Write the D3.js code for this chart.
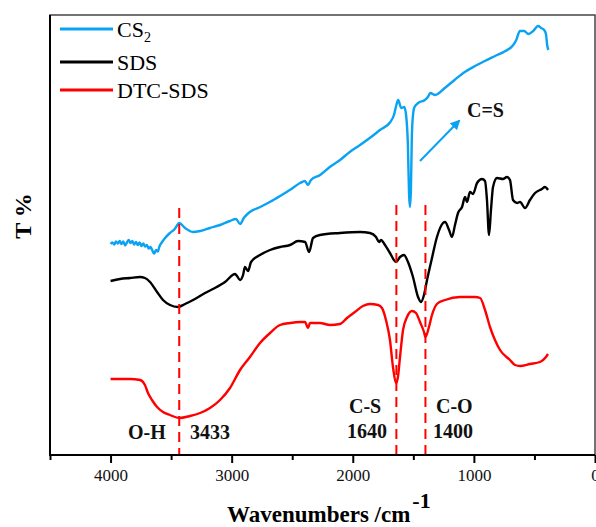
<!DOCTYPE html>
<html>
<head>
<meta charset="utf-8">
<script src="https://cdn.jsdelivr.net/npm/d3@7/dist/d3.min.js"></script>
<style>
  body { margin: 0; background: #fff; }
  svg { display: block; font-family: "Liberation Serif", "Times New Roman", serif; }
</style>
</head>
<body>
<div id="chart-area"></div>
<script>
// wavenumber (cm-1) and relative transmittance readings
var cs2Wave = [4000, 3985, 3970, 3955, 3940, 3925, 3910, 3895, 3880, 3865, 3850, 3835, 3820, 3805, 3790, 3775, 3760, 3745, 3730, 3715, 3700, 3685, 3670, 3655, 3640, 3625, 3610, 3595, 3580, 3550, 3510, 3470, 3433, 3385, 3320, 3260, 3180, 3095, 3015, 2965, 2930, 2900, 2850, 2765, 2685, 2600, 2520, 2435, 2395, 2370, 2345, 2270, 2190, 2105, 2025, 1940, 1860, 1775, 1690, 1660, 1640, 1625, 1600, 1575, 1560, 1545, 1535, 1528, 1520, 1512, 1500, 1490, 1460, 1405, 1380, 1360, 1320, 1240, 1160, 1075, 990, 910, 825, 740, 675, 650, 620, 585, 550, 510, 470, 445, 420, 405, 395, 385];
var cs2Val = [42.2, 42.5, 42.1, 42.7, 42.3, 42.8, 42.2, 42.7, 41.9, 42.5, 43.0, 42.4, 42.8, 42.1, 42.6, 42.0, 42.5, 41.8, 42.3, 41.7, 42.0, 41.3, 41.6, 40.9, 40.3, 41.0, 40.7, 41.8, 42.4, 43.4, 44.4, 45.2, 46.4, 45.4, 44.6, 44.8, 45.4, 46.0, 46.8, 47.2, 46.2, 47.4, 48.6, 49.6, 50.6, 51.8, 53.0, 54.4, 54.8, 54.0, 55.0, 56.0, 57.6, 59.0, 60.6, 62.0, 63.4, 65.0, 66.6, 68.0, 70.0, 71.0, 69.4, 69.6, 68.0, 62.0, 52.0, 49.6, 53.0, 64.0, 68.6, 69.6, 70.4, 71.0, 71.6, 72.4, 72.0, 73.4, 75.0, 76.6, 77.8, 78.8, 79.8, 80.8, 82.0, 83.0, 84.8, 84.8, 84.2, 84.8, 85.8, 85.4, 85.0, 84.2, 82.0, 81.0];

var sdsWave = [4000, 3922, 3840, 3757, 3716, 3674, 3616, 3567, 3509, 3443, 3385, 3303, 3220, 3138, 3055, 2972, 2956, 2931, 2906, 2890, 2865, 2840, 2766, 2683, 2601, 2518, 2452, 2394, 2361, 2328, 2271, 2106, 1940, 1858, 1808, 1783, 1767, 1734, 1693, 1643, 1610, 1577, 1544, 1503, 1461, 1437, 1412, 1387, 1346, 1305, 1255, 1238, 1205, 1181, 1156, 1131, 1098, 1073, 1057, 1032, 1007, 974, 933, 908, 892, 875, 859, 842, 809, 760, 727, 702, 677, 644, 619, 578, 537, 495, 438, 413, 388];
var sdsVal = [34.8, 35.2, 35.4, 35.6, 35.4, 34.6, 32.6, 31.0, 30.0, 29.6, 30.2, 31.2, 32.4, 33.4, 34.6, 36.2, 35.8, 35.0, 36.0, 37.6, 36.8, 38.6, 40.0, 41.0, 41.6, 42.0, 42.8, 42.6, 40.6, 43.4, 44.0, 44.4, 44.6, 44.4, 43.6, 42.6, 43.0, 42.0, 40.4, 38.6, 39.6, 40.0, 38.6, 35.6, 31.6, 30.6, 32.0, 35.0, 39.4, 43.6, 46.4, 46.6, 45.0, 43.6, 46.0, 48.4, 49.6, 51.6, 50.6, 52.6, 52.2, 54.4, 55.2, 54.8, 51.0, 44.0, 49.0, 53.6, 55.4, 55.2, 55.6, 55.0, 51.0, 50.4, 50.6, 49.4, 51.0, 52.4, 53.2, 53.6, 53.0];

var dtcWave = [4000, 3840, 3757, 3716, 3691, 3658, 3616, 3567, 3509, 3433, 3344, 3261, 3179, 3096, 3014, 2931, 2849, 2766, 2683, 2601, 2518, 2436, 2394, 2370, 2353, 2271, 2188, 2106, 2048, 1982, 1916, 1858, 1792, 1759, 1726, 1693, 1668, 1643, 1627, 1610, 1585, 1552, 1511, 1478, 1445, 1412, 1400, 1371, 1346, 1305, 1238, 1114, 990, 949, 908, 867, 826, 784, 702, 660, 619, 537, 454, 405, 388];
var dtcVal = [15.2, 15.2, 15.0, 14.0, 12.4, 11.0, 9.6, 8.6, 8.0, 7.4, 7.8, 8.4, 9.4, 11.0, 13.4, 17.0, 19.6, 22.4, 24.4, 26.0, 26.4, 26.6, 26.6, 25.4, 26.4, 26.4, 26.0, 26.2, 27.4, 28.6, 29.8, 30.2, 30.0, 29.4, 27.0, 23.0, 17.6, 14.4, 15.6, 19.6, 25.0, 27.6, 28.8, 28.4, 26.6, 24.6, 23.6, 25.6, 28.0, 30.2, 31.0, 31.6, 31.6, 31.4, 29.0, 25.6, 23.0, 21.0, 19.0, 18.0, 17.8, 18.2, 18.6, 19.6, 20.2];

var seriesNames = ["CS2", "SDS", "DTC-SDS"];
var seriesColors = ["#0aa2f2", "#000000", "#ff0000"];
var xTicksMajor = [4000, 3000, 2000, 1000, 0];
var xTicksMinor = [4500, 3500, 2500, 1500, 500];
var peakMarks = [3433, 1640, 1400];

var W = 596, H = 527;
var plotL = 50, plotR = 595, plotT = 15, plotB = 455;

var svg = d3.select("#chart-area").append("svg").attr("width", W).attr("height", H);

var x = d3.scaleLinear().domain([4500, 0]).range([plotL, plotR]);
var y = d3.scaleLinear().domain([0, 88]).range([plotB, plotT]);

// frame
svg.append("rect").attr("x", plotL).attr("y", plotT).attr("width", plotR - plotL).attr("height", plotB - plotT)
    .attr("fill", "none").attr("stroke", "#444").attr("stroke-width", 1.5);

var line = d3.line().x(d => x(d[0])).y(d => y(d[1])).curve(d3.curveMonotoneX);

var allSeries = [
  d3.zip(cs2Wave, cs2Val),
  d3.zip(sdsWave, sdsVal),
  d3.zip(dtcWave, dtcVal)
];

allSeries.forEach((s, i) => {
  svg.append("path").datum(s).attr("d", line)
      .attr("fill", "none").attr("stroke", seriesColors[i])
      .attr("stroke-width", 2.4).attr("stroke-linejoin", "round");
});

// dashed peak guides
var guideTop = [49.4, 50, 50];
svg.selectAll("line.guide").data(peakMarks).enter().append("line")
    .attr("class", "guide")
    .attr("x1", d => x(d)).attr("x2", d => x(d))
    .attr("y1", (d, i) => y(guideTop[i])).attr("y2", plotB)
    .attr("stroke", "#ff0000").attr("stroke-width", 2).attr("stroke-dasharray", "10,6");

// axes
svg.append("g").attr("transform", `translate(0,${plotB})`)
    .call(d3.axisBottom(x).tickValues(xTicksMajor).tickSize(8).tickPadding(6).tickFormat(d3.format("d")))
    .call(g => g.select(".domain").remove())
    .call(g => g.selectAll("line").attr("stroke-width", 2))
    .call(g => g.selectAll("text").attr("font-size", 17).attr("font-family", "Liberation Serif").attr("fill", "#111"));

svg.append("g").attr("transform", `translate(0,${plotB})`)
    .call(d3.axisBottom(x).tickValues(xTicksMinor).tickSize(5).tickFormat(""))
    .call(g => g.select(".domain").remove())
    .call(g => g.selectAll("line").attr("stroke-width", 2));

svg.append("line").attr("x1", plotL - 1).attr("x2", plotR).attr("y1", plotB).attr("y2", plotB)
    .attr("stroke", "#000").attr("stroke-width", 2);
svg.append("line").attr("x1", plotL).attr("x2", plotL).attr("y1", plotT).attr("y2", plotB)
    .attr("stroke", "#000").attr("stroke-width", 2);

// axis titles
var xt = svg.append("text").attr("x", 227).attr("y", 522)
    .attr("font-size", 23).attr("font-weight", "bold");
xt.append("tspan").text("Wavenumbers /cm");
xt.append("tspan").attr("dx", 2).attr("dy", -14).attr("font-size", 22).text("-1");

svg.append("text").attr("transform", "translate(31,216) rotate(-90)").attr("text-anchor", "middle")
    .attr("font-size", 24).attr("font-weight", "bold").text("T %");

// legend
var legY = [29, 62, 90];
seriesNames.forEach((name, i) => {
  svg.append("line").attr("x1", 60).attr("x2", 113).attr("y1", legY[i]).attr("y2", legY[i])
      .attr("stroke", seriesColors[i]).attr("stroke-width", 3);
  var t = svg.append("text").attr("x", 117).attr("y", legY[i] + 8).attr("font-size", 22);
  if (name === "CS2") {
    t.append("tspan").text("CS");
    t.append("tspan").attr("font-size", 14).attr("dy", 5).text("2");
  } else {
    t.text(name);
  }
});

// peak labels
var labels = [
  { t: "O-H", x: 128, y: 439 },
  { t: "3433", x: 190, y: 439 },
  { t: "C-S", x: 349, y: 413 },
  { t: "1640", x: 347, y: 438 },
  { t: "C-O", x: 436, y: 413 },
  { t: "1400", x: 433, y: 438 },
  { t: "C=S", x: 467, y: 117 }
];
svg.selectAll("text.lbl").data(labels).enter().append("text").attr("class", "lbl")
    .attr("x", d => d.x).attr("y", d => d.y)
    .attr("font-size", 20).attr("font-weight", "bold").attr("fill", "#111").text(d => d.t);

// arrow toward C=S
svg.append("defs").append("marker").attr("id", "ah").attr("viewBox", "0 0 10 10")
    .attr("refX", 8).attr("refY", 5).attr("markerWidth", 5).attr("markerHeight", 5)
    .attr("orient", "auto").append("path").attr("d", "M0,0 L10,5 L0,10 Z").attr("fill", seriesColors[0]);
svg.append("line").attr("x1", 420).attr("y1", 161).attr("x2", 459).attr("y2", 121)
    .attr("stroke", seriesColors[0]).attr("stroke-width", 2).attr("marker-end", "url(#ah)");
</script>
</body>
</html>
